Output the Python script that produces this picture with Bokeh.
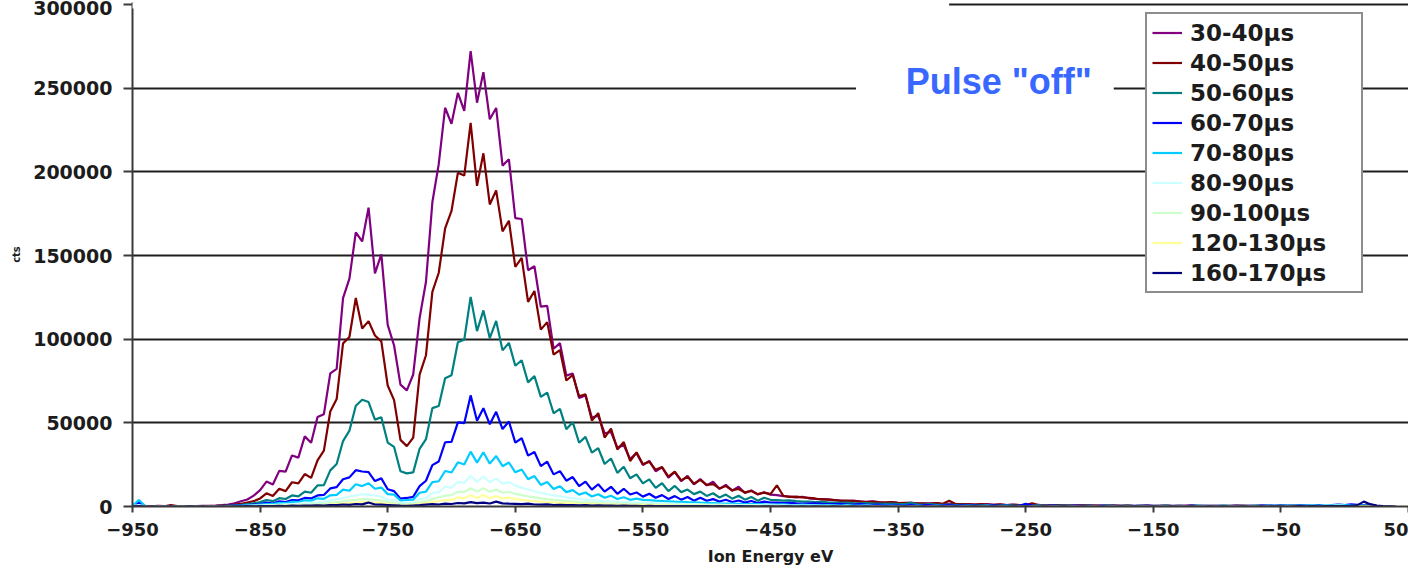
from bokeh.plotting import figure
from bokeh.models import (ColumnDataSource, Range1d, FixedTicker, BasicTickFormatter,
                          Legend, LegendItem, Label, BoxAnnotation)
from bokeh.embed import file_html
from bokeh.resources import INLINE

# Ion energy bins (eV), 5 eV wide
energy_ev = list(range(-950, 45, 5))

x_ticks = [-950, -850, -750, -650, -550, -450, -350, -250, -150, -50, 50]
y_ticks = [0, 50000, 100000, 150000, 200000, 250000, 300000]

window_labels = ["30-40µs", "40-50µs", "50-60µs", "60-70µs", "70-80µs",
                 "80-90µs", "90-100µs", "120-130µs", "160-170µs"]
window_colors = ["#800080", "#800000", "#008080", "#0000FF", "#00CCFF",
                 "#CCFFFF", "#CCFFCC", "#FFFF99", "#000080"]

# counts per bin, in thousands
cts_30_40 = [
    0.6, 0.2, 0.3, 0.1, 0.4, 0.2, 0.3, 0.1, 0.2, 0.3,
    0.2, 0.4, 0.3, 0.5, 0.8, 1.2, 1.9, 3.1, 4.2, 6.5,
    9.8, 14.9, 13.1, 21.3, 20.8, 30.5, 29.2, 41.9, 38.1, 53.5,
    55.2, 79.6, 82.3, 124.5, 136.2, 163.8, 158.4, 178.6, 139.3, 150.7,
    108.5, 96.2, 72.8, 69.4, 78.9, 112.6, 134.3, 181.8, 204.6, 238.3,
    228.7, 247.2, 236.4, 272.1, 241.3, 259.6, 231.4, 238.2, 203.7, 207.5,
    172.3, 171.8, 141.2, 143.6, 119.4, 119.9, 94.3, 97.6, 78.2, 79.5,
    64.9, 66.3, 53.1, 54.2, 43.8, 44.5, 35.2, 36.6, 28.4, 31.9,
    24.8, 27.3, 21.1, 23.4, 17.2, 20.6, 15.1, 18.3, 13.2, 16.4,
    12.6, 14.8, 10.5, 12.9, 9.4, 11.8, 8.1, 9.6, 7.2, 8.5,
    7.1, 6.8, 6.2, 5.9, 5.5, 5.8, 4.9, 4.6, 4.4, 4.1,
    3.8, 3.6, 3.3, 3.5, 2.9, 2.8, 3.1, 2.5, 2.4, 2.6,
    2.2, 2.0, 2.3, 1.8, 1.9, 1.7, 2.1, 1.5, 1.6, 1.4,
    1.3, 1.5, 1.2, 1.1, 1.4, 1.0, 1.2, 0.9, 1.1, 0.8,
    0.9, 0.7, 1.0, 0.6, 0.8, 0.7, 0.9, 0.5, 0.6, 0.7,
    0.5, 0.6, 0.4, 0.7, 0.5, 0.4, 0.6, 0.3, 0.5, 0.4,
    0.4, 0.3, 0.5, 0.4, 0.3, 0.5, 0.4, 0.3, 0.4, 0.3,
    0.4, 0.3, 0.4, 0.5, 0.3, 0.4, 0.3, 0.5, 0.4, 0.3,
    0.4, 0.3, 0.5, 0.4, 0.3, 0.4, 0.6, 0.5, 0.7, 0.8,
    0.6, 0.9, 0.7, 0.5, 0.6, 0.4, 0.3, 0.2, 0.1,
]
cts_40_50 = [
    0.8, 0.2, 0.1, 0.3, 0.2, 0.1, 0.9, 0.2, 0.1, 0.2,
    0.3, 0.2, 0.4, 0.3, 0.5, 0.7, 1.1, 1.6, 2.4, 3.2,
    4.8, 7.9, 6.3, 10.6, 9.2, 14.5, 13.8, 19.4, 17.1, 27.6,
    33.4, 56.8, 64.2, 97.5, 101.3, 124.6, 106.4, 110.8, 102.2, 98.7,
    72.3, 63.6, 39.8, 36.1, 41.2, 78.8, 90.4, 128.3, 139.7, 166.2,
    176.6, 199.4, 197.8, 229.3, 191.6, 211.1, 180.5, 188.9, 164.4, 170.8,
    143.2, 148.6, 122.3, 128.8, 105.7, 110.2, 90.8, 93.4, 75.3, 78.6,
    65.8, 67.1, 51.4, 55.8, 41.2, 46.6, 34.1, 38.5, 27.2, 32.4,
    25.3, 26.8, 21.9, 23.6, 17.8, 20.9, 15.6, 17.8, 13.6, 15.9,
    12.9, 13.4, 10.8, 12.2, 9.7, 10.5, 8.4, 9.3, 7.4, 8.3,
    7.4, 12.6, 6.4, 5.7, 5.9, 5.4, 5.1, 4.8, 4.2, 4.3,
    3.9, 3.4, 3.6, 3.2, 3.1, 2.7, 3.0, 2.6, 2.3, 2.7,
    2.1, 2.2, 2.0, 1.9, 1.7, 1.8, 2.0, 1.6, 3.4, 1.5,
    1.4, 1.3, 1.2, 1.5, 1.1, 1.0, 1.3, 0.9, 1.0, 0.9,
    0.8, 1.9, 0.9, 0.7, 0.6, 0.8, 0.7, 0.6, 0.5, 0.7,
    0.6, 0.5, 0.4, 0.6, 0.5, 0.4, 0.5, 0.3, 0.4, 0.5,
    0.3, 0.4, 0.5, 0.3, 0.4, 0.3, 0.5, 0.4, 0.3, 0.4,
    0.3, 0.4, 0.3, 0.4, 0.5, 0.3, 0.4, 0.3, 0.4, 0.3,
    0.4, 0.3, 0.5, 0.4, 0.3, 0.4, 0.5, 0.4, 0.6, 0.7,
    0.5, 0.8, 0.6, 0.4, 0.5, 0.3, 0.2, 0.1, 0.1,
]
cts_50_60 = [
    0.3, 0.1, 0.2, 0.1, 0.2, 0.1, 0.2, 0.1, 0.3, 0.1,
    0.2, 0.1, 0.3, 0.2, 0.4, 0.5, 0.7, 1.0, 1.4, 1.9,
    2.6, 3.9, 3.2, 5.0, 4.5, 6.6, 6.0, 8.9, 8.2, 12.6,
    12.8, 21.6, 25.4, 39.1, 45.3, 60.2, 63.8, 62.4, 51.9, 53.3,
    38.2, 35.6, 21.1, 19.8, 20.4, 34.5, 40.2, 58.8, 60.1, 76.6,
    78.4, 98.2, 99.7, 125.3, 104.8, 117.2, 100.6, 110.9, 93.3, 97.8,
    84.1, 87.4, 74.2, 77.9, 65.5, 68.1, 55.7, 58.3, 46.2, 50.4,
    38.1, 41.6, 32.2, 34.9, 25.4, 28.7, 20.1, 23.8, 16.9, 19.2,
    13.8, 16.2, 11.1, 13.9, 9.2, 12.3, 8.6, 10.1, 7.4, 8.9,
    6.3, 7.9, 5.4, 7.1, 4.7, 6.4, 4.1, 5.7, 3.5, 5.2,
    4.0, 3.8, 3.5, 3.7, 3.2, 3.0, 2.9, 2.7, 2.8, 2.5,
    2.4, 2.2, 2.3, 2.0, 1.9, 2.1, 1.8, 1.7, 1.6, 1.8,
    1.5, 1.4, 2.2, 1.3, 1.2, 1.4, 1.1, 1.0, 1.2, 0.9,
    1.0, 0.8, 0.9, 0.7, 0.8, 0.6, 0.7, 0.9, 0.6, 0.5,
    0.6, 0.5, 0.7, 0.4, 0.5, 0.6, 0.4, 0.5, 0.3, 0.4,
    0.5, 0.3, 0.4, 0.6, 0.3, 0.4, 0.5, 0.3, 0.4, 0.3,
    0.4, 0.3, 0.5, 0.3, 0.4, 0.3, 0.4, 0.6, 0.3, 0.4,
    0.3, 0.5, 0.4, 0.3, 0.4, 0.3, 0.5, 0.4, 0.3, 0.4,
    0.5, 0.4, 0.6, 0.5, 0.4, 0.6, 0.5, 0.6, 0.8, 0.6,
    0.7, 0.9, 0.6, 0.5, 0.4, 0.3, 0.2, 0.1, 0.1,
]
cts_60_70 = [
    0.2, 2.4, 0.2, 0.1, 0.1, 0.2, 0.1, 0.2, 0.1, 0.1,
    0.2, 0.1, 0.2, 0.3, 0.2, 0.4, 0.5, 0.6, 0.9, 1.2,
    1.5, 2.4, 1.8, 3.1, 2.6, 3.9, 3.7, 5.1, 4.8, 6.6,
    6.9, 10.8, 11.6, 16.3, 17.4, 21.7, 20.9, 20.6, 15.2, 16.8,
    10.3, 9.2, 4.7, 5.1, 5.8, 12.2, 15.4, 24.7, 26.9, 38.4,
    38.6, 50.3, 49.8, 66.4, 51.2, 58.7, 49.1, 56.6, 46.3, 50.8,
    38.2, 40.8, 30.4, 32.6, 24.1, 26.8, 19.2, 21.1, 15.4, 17.6,
    12.2, 14.9, 10.1, 13.3, 8.9, 11.8, 7.6, 10.6, 7.2, 8.4,
    5.9, 7.6, 5.2, 6.8, 4.5, 6.2, 4.1, 5.7, 3.5, 5.2,
    3.4, 4.4, 3.0, 4.0, 2.7, 3.6, 2.4, 3.3, 2.1, 2.9,
    2.4, 2.3, 2.1, 2.2, 1.9, 1.8, 1.7, 1.9, 1.6, 1.5,
    1.4, 1.5, 1.3, 1.2, 1.4, 1.1, 1.0, 1.2, 0.9, 1.0,
    0.9, 0.8, 1.0, 0.7, 0.8, 0.9, 0.6, 0.7, 0.8, 0.6,
    0.7, 0.5, 0.6, 0.4, 0.5, 0.7, 0.4, 0.5, 0.3, 0.4,
    1.6, 0.5, 0.4, 0.3, 0.5, 0.4, 0.3, 0.4, 0.6, 0.3,
    0.4, 0.3, 0.5, 0.3, 0.4, 0.2, 0.3, 0.4, 0.3, 0.5,
    0.3, 0.4, 0.3, 0.2, 0.4, 0.3, 0.5, 0.3, 0.4, 0.3,
    0.4, 0.3, 0.2, 0.4, 0.3, 0.4, 0.3, 0.5, 0.6, 0.4,
    0.5, 0.6, 0.4, 0.7, 0.5, 0.6, 0.8, 0.7, 0.9, 1.1,
    0.9, 1.3, 1.0, 0.7, 0.6, 0.4, 0.3, 0.1, 0.1,
]
cts_70_80 = [
    0.4, 3.9, 0.3, 0.1, 0.2, 0.1, 0.2, 0.1, 0.1, 0.2,
    0.1, 0.2, 0.1, 0.2, 0.3, 0.2, 0.4, 0.5, 0.7, 0.8,
    1.1, 1.5, 1.4, 2.2, 2.0, 2.8, 2.7, 3.7, 3.5, 4.9,
    4.6, 6.7, 6.9, 10.1, 9.4, 13.3, 12.2, 13.9, 10.6, 11.3,
    7.4, 7.1, 3.6, 3.9, 4.1, 8.2, 8.9, 14.6, 15.1, 21.2,
    20.3, 26.4, 25.1, 32.8, 26.2, 32.4, 25.6, 30.2, 24.1, 26.3,
    20.4, 22.1, 16.3, 18.2, 12.9, 14.6, 10.5, 12.1, 8.6, 9.8,
    7.1, 8.4, 6.0, 7.3, 5.2, 6.4, 4.5, 5.5, 4.0, 4.7,
    4.0, 3.8, 3.5, 3.3, 3.1, 2.9, 2.8, 2.6, 2.5, 2.3,
    2.2, 2.1, 1.9, 1.8, 1.7, 1.6, 1.5, 1.4, 1.5, 1.3,
    1.2, 1.1, 1.3, 1.0, 0.9, 1.1, 0.8, 0.9, 0.7, 0.8,
    0.7, 0.6, 0.8, 0.5, 0.6, 0.7, 0.5, 0.4, 0.6, 0.5,
    0.4, 0.5, 0.3, 0.6, 0.4, 0.3, 0.5, 0.4, 0.3, 0.4,
    0.3, 0.4, 0.2, 0.3, 0.5, 0.2, 0.3, 0.4, 0.2, 0.3,
    0.2, 0.3, 0.4, 0.2, 0.3, 0.2, 0.4, 0.3, 0.2, 0.3,
    0.3, 0.2, 0.3, 0.4, 0.2, 0.3, 0.2, 0.3, 0.4, 0.2,
    0.3, 0.2, 0.4, 0.3, 0.2, 0.3, 0.2, 0.4, 0.3, 0.2,
    0.3, 0.4, 0.2, 0.3, 0.2, 0.3, 0.4, 0.3, 0.5, 0.4,
    0.4, 0.5, 0.4, 0.6, 0.5, 0.7, 0.6, 0.9, 0.7, 1.0,
    0.8, 0.6, 0.7, 0.5, 0.3, 0.2, 0.1, 0.1, 0.1,
]
cts_80_90 = [
    0.2, 0.8, 0.1, 0.1, 0.2, 0.1, 0.1, 0.2, 0.1, 0.1,
    0.1, 0.1, 0.2, 0.1, 0.2, 0.2, 0.3, 0.3, 0.4, 0.5,
    0.6, 0.8, 0.9, 1.1, 1.3, 1.4, 1.7, 1.9, 2.2, 2.5,
    2.9, 3.5, 4.3, 5.1, 5.9, 6.6, 7.4, 7.1, 6.6, 5.8,
    4.2, 3.9, 2.0, 2.3, 2.2, 4.6, 5.0, 8.1, 8.6, 11.8,
    11.2, 14.8, 14.1, 18.4, 14.7, 18.1, 14.5, 16.8, 13.6, 14.6,
    12.5, 11.3, 10.2, 9.1, 8.2, 7.3, 6.6, 6.1, 5.4, 4.9,
    4.5, 4.1, 3.9, 3.5, 3.2, 3.1, 2.9, 2.7, 2.5, 2.4,
    2.2, 2.1, 2.0, 1.8, 1.7, 1.6, 1.6, 1.5, 1.4, 1.3,
    1.2, 1.2, 1.1, 1.0, 1.0, 0.9, 0.8, 0.8, 0.8, 0.7,
    0.7, 0.6, 0.7, 0.6, 0.5, 0.6, 0.5, 0.5, 0.4, 0.4,
    0.4, 0.3, 0.4, 0.3, 0.3, 0.4, 0.3, 0.2, 0.3, 0.3,
    0.3, 0.2, 0.3, 0.2, 0.2, 0.3, 0.2, 0.2, 0.1, 0.2,
    0.2, 0.1, 0.2, 0.2, 0.1, 0.2, 0.1, 0.2, 0.1, 0.1,
    0.2, 0.1, 0.1, 0.2, 0.1, 0.1, 0.2, 0.1, 0.1, 0.2,
    0.1, 0.1, 0.2, 0.1, 0.1, 0.2, 0.1, 0.1, 0.1, 0.2,
    0.1, 0.2, 0.1, 0.1, 0.2, 0.1, 0.1, 0.2, 0.1, 0.1,
    0.2, 0.1, 0.1, 0.2, 0.1, 0.2, 0.1, 0.2, 0.3, 0.2,
    0.3, 0.2, 0.4, 0.3, 0.2, 0.4, 0.3, 0.5, 0.4, 0.6,
    0.4, 0.3, 0.4, 0.2, 0.2, 0.1, 0.1, 0.0, 0.1,
]
cts_90_100 = [
    0.1, 0.3, 0.1, 0.0, 0.1, 0.0, 0.1, 0.1, 0.0, 0.1,
    0.1, 0.0, 0.1, 0.1, 0.1, 0.1, 0.2, 0.2, 0.3, 0.3,
    0.4, 0.5, 0.6, 0.7, 0.8, 0.9, 1.0, 1.2, 1.3, 1.5,
    1.8, 2.1, 2.6, 3.1, 3.6, 4.0, 4.5, 4.3, 4.0, 3.5,
    2.8, 2.1, 1.5, 1.2, 1.6, 2.5, 3.3, 4.4, 5.5, 6.5,
    6.8, 8.8, 8.7, 10.9, 8.9, 11.0, 8.8, 10.1, 8.2, 8.8,
    7.5, 6.8, 6.1, 5.5, 4.9, 4.4, 4.0, 3.7, 3.3, 3.0,
    2.7, 2.5, 2.3, 2.1, 1.9, 1.8, 1.7, 1.6, 1.5, 1.4,
    1.3, 1.3, 1.2, 1.1, 1.0, 1.0, 0.9, 0.9, 0.8, 0.8,
    0.7, 0.7, 0.7, 0.6, 0.6, 0.5, 0.5, 0.5, 0.5, 0.4,
    0.4, 0.4, 0.4, 0.3, 0.3, 0.3, 0.3, 0.3, 0.2, 0.2,
    0.2, 0.2, 0.2, 0.2, 0.1, 0.2, 0.1, 0.2, 0.1, 0.1,
    0.1, 0.2, 0.1, 0.1, 0.1, 0.2, 0.1, 0.1, 0.1, 0.1,
    0.1, 0.0, 0.1, 0.1, 0.0, 0.1, 0.1, 0.0, 0.1, 0.1,
    0.0, 0.1, 0.1, 0.0, 0.1, 0.0, 0.1, 0.1, 0.0, 0.1,
    0.1, 0.0, 0.1, 0.1, 0.0, 0.1, 0.0, 0.1, 0.1, 0.0,
    0.1, 0.1, 0.0, 0.1, 0.0, 0.1, 0.1, 0.0, 0.1, 0.0,
    0.1, 0.0, 0.1, 0.1, 0.0, 0.1, 0.1, 0.1, 0.2, 0.1,
    0.2, 0.1, 0.3, 0.2, 0.1, 0.3, 0.2, 0.3, 0.2, 0.4,
    0.3, 0.2, 0.2, 0.1, 0.1, 0.0, 0.1, 0.0, 0.0,
]
cts_120_130 = [
    0.1, 0.2, 0.0, 0.1, 0.0, 0.1, 0.0, 0.0, 0.1, 0.0,
    0.0, 0.1, 0.0, 0.1, 0.1, 0.1, 0.1, 0.2, 0.2, 0.2,
    0.3, 0.3, 0.4, 0.4, 0.5, 0.5, 0.6, 0.7, 0.8, 0.9,
    1.0, 1.2, 1.5, 1.8, 2.1, 2.3, 2.8, 2.5, 2.3, 2.0,
    1.6, 1.2, 0.9, 0.7, 1.0, 1.5, 2.0, 2.6, 3.3, 3.8,
    3.9, 5.4, 4.9, 6.8, 5.1, 6.9, 5.0, 6.3, 4.7, 5.3,
    4.4, 4.0, 3.6, 3.2, 2.9, 2.6, 2.4, 2.2, 2.0, 1.8,
    1.6, 1.5, 1.4, 1.3, 1.2, 1.1, 1.0, 1.0, 0.9, 0.9,
    0.8, 0.8, 0.7, 0.7, 0.6, 0.6, 0.6, 0.5, 0.5, 0.5,
    0.4, 0.4, 0.4, 0.4, 0.3, 0.3, 0.3, 0.3, 0.3, 0.2,
    0.2, 0.2, 0.2, 0.2, 0.2, 0.1, 0.2, 0.1, 0.1, 0.1,
    0.1, 0.1, 0.2, 0.1, 0.1, 0.0, 0.1, 0.1, 0.0, 0.1,
    0.1, 0.0, 0.1, 0.1, 0.0, 0.1, 0.0, 0.1, 0.1, 0.0,
    0.0, 0.1, 0.1, 0.0, 0.1, 0.0, 0.1, 0.0, 0.1, 0.1,
    0.1, 0.0, 0.1, 0.0, 0.1, 0.1, 0.0, 0.1, 0.0, 0.1,
    0.0, 0.1, 0.0, 0.1, 0.1, 0.0, 0.1, 0.0, 0.1, 0.0,
    0.1, 0.0, 0.1, 0.0, 0.1, 0.0, 0.1, 0.1, 0.0, 0.1,
    0.0, 0.1, 0.0, 0.1, 0.1, 0.0, 0.1, 0.0, 0.1, 0.1,
    0.1, 0.2, 0.1, 0.2, 0.1, 0.2, 0.2, 0.3, 0.2, 0.1,
    0.2, 0.1, 0.1, 0.0, 0.1, 0.0, 0.0, 0.0, 0.0,
]
cts_160_170 = [
    0.1, 0.3, 0.0, 0.1, 0.0, 0.0, 0.1, 0.0, 0.0, 0.1,
    0.0, 0.1, 0.0, 0.0, 0.1, 0.0, 0.1, 0.1, 0.2, 0.1,
    0.2, 0.3, 0.2, 0.4, 0.3, 0.5, 0.4, 0.6, 0.5, 0.7,
    0.6, 0.9, 0.8, 1.2, 1.0, 1.5, 1.3, 2.4, 1.2, 1.1,
    0.9, 0.7, 0.5, 0.4, 0.6, 0.8, 1.1, 1.4, 1.2, 1.7,
    1.5, 2.1, 1.9, 2.6, 2.0, 2.3, 1.8, 2.9, 1.9, 1.7,
    1.6, 1.4, 1.7, 1.2, 1.1, 1.3, 0.9, 1.0, 0.8, 0.9,
    0.7, 0.8, 0.6, 0.7, 0.5, 0.6, 0.4, 0.5, 0.4, 0.4,
    0.3, 0.4, 0.3, 0.3, 0.2, 0.3, 0.2, 0.2, 0.3, 0.2,
    0.2, 0.1, 0.2, 0.1, 0.1, 0.2, 0.1, 0.1, 0.0, 0.1,
    0.1, 0.0, 0.1, 0.1, 0.0, 0.1, 0.0, 0.1, 0.0, 0.0,
    0.1, 0.0, 0.0, 0.1, 0.0, 0.1, 0.0, 0.0, 0.1, 0.0,
    0.0, 0.1, 0.0, 0.0, 0.1, 0.0, 0.0, 0.1, 0.0, 0.1,
    0.0, 0.0, 0.1, 0.0, 0.0, 0.1, 0.0, 0.0, 0.1, 0.0,
    0.1, 0.0, 0.0, 0.1, 0.0, 0.0, 0.1, 0.0, 0.0, 0.1,
    0.0, 0.0, 0.1, 0.0, 0.0, 0.1, 0.0, 0.1, 0.0, 0.0,
    0.1, 0.0, 0.0, 0.1, 0.0, 0.0, 0.1, 0.0, 0.0, 0.1,
    0.0, 0.1, 0.0, 0.0, 0.1, 0.0, 0.0, 0.1, 0.0, 0.1,
    0.1, 0.0, 0.1, 0.2, 0.1, 0.2, 0.1, 0.3, 0.2, 0.3,
    0.2, 0.4, 0.8, 2.9, 1.4, 0.5, 0.2, 0.1, 0.0,
]

window_counts = [cts_30_40, cts_40_50, cts_50_60, cts_60_70, cts_70_80,
                 cts_80_90, cts_90_100, cts_120_130, cts_160_170]

p = figure(width=1408, height=568, output_backend="svg", toolbar_location=None,
           x_range=Range1d(-950, 50), y_range=Range1d(0, 301200),
           min_border_left=132, min_border_right=0, min_border_top=2,
           min_border_bottom=62)
p.background_fill_color = "white"
p.border_fill_color = "white"
p.outline_line_color = None

# axes
tick_font = "DejaVu Sans"
p.xaxis.ticker = FixedTicker(ticks=x_ticks)
p.yaxis.ticker = FixedTicker(ticks=y_ticks)
p.yaxis.formatter = BasicTickFormatter(use_scientific=False)
p.xaxis.formatter = BasicTickFormatter(use_scientific=False)
for ax in (p.xaxis, p.yaxis):
    ax.axis_line_color = "#3a3a3a"
    ax.axis_line_width = 2
    ax.major_tick_line_color = "#3a3a3a"
    ax.major_tick_line_width = 2
    ax.major_tick_in = 0
    ax.minor_tick_line_color = None
    ax.major_label_text_font = tick_font
    ax.major_label_text_font_style = "bold"
    ax.major_label_text_color = "#1c1c1c"
    ax.axis_label_text_font = tick_font
    ax.axis_label_text_font_style = "bold"
    ax.axis_label_text_color = "#1c1c1c"
p.xaxis.major_tick_out = 6
p.yaxis.major_tick_out = 9
p.xaxis.major_label_text_font_size = "18px"
p.yaxis.major_label_text_font_size = "19px"
p.xaxis.major_label_standoff = 10
p.yaxis.major_label_standoff = 11
p.xaxis.axis_label = "Ion Energy eV"
p.xaxis.axis_label_text_font_size = "16px"
p.xaxis.axis_label_standoff = 8
p.yaxis.axis_label = "cts"
p.yaxis.axis_label_text_font_size = "10px"
p.yaxis.axis_label_standoff = 8

# grid
p.xgrid.visible = False
p.ygrid.ticker = FixedTicker(ticks=y_ticks)
p.ygrid.grid_line_color = "#1e1e1e"
p.ygrid.grid_line_width = 2

# spectra, drawn oldest window first
renderers = []
for label, color, vals in zip(window_labels, window_colors, window_counts):
    src = ColumnDataSource(data=dict(x=energy_ev[:len(vals)],
                                     y=[v * 1000 for v in vals]))
    r = p.line("x", "y", source=src, line_color=color, line_width=2.2)
    renderers.append(r)

# mask along the top edge
p.add_layout(BoxAnnotation(left=-960, right=-310, bottom=297600, top=320000,
                           fill_color="white", fill_alpha=1, line_alpha=0))

# annotation text with a white backing
p.add_layout(BoxAnnotation(left=-383, right=-181, bottom=236600, top=266500,
                           fill_color="white", fill_alpha=1, line_alpha=0))
p.add_layout(Label(x=-344, y=253900, text='Pulse "off"', text_font="Liberation Sans",
                   text_font_style="bold", text_font_size="36px",
                   text_color="#3868FF", text_baseline="alphabetic"))

legend = Legend(items=[LegendItem(label=lab, renderers=[r])
                       for lab, r in zip(window_labels, renderers)],
                location=(1013, 213), padding=5, spacing=3, margin=0,
                glyph_width=30, glyph_height=27, label_height=27, label_width=166,
                label_standoff=8,
                label_text_font=tick_font, label_text_font_style="bold",
                label_text_font_size="23px", label_text_color="#1c1c1c",
                border_line_color="#1c1c1c", border_line_width=2,
                background_fill_color="white", background_fill_alpha=1)
p.add_layout(legend)

open("out.html", "w").write(file_html(p, INLINE))
